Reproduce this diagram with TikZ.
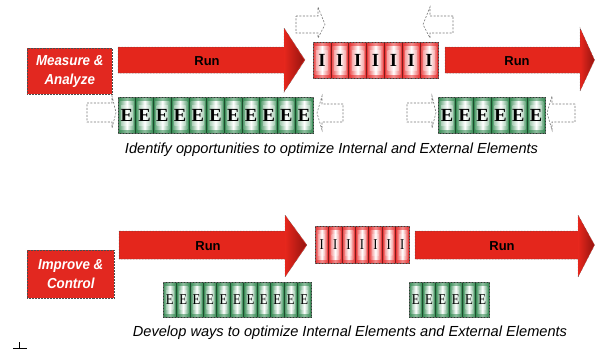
\documentclass[tikz,border=0pt]{standalone}
\usepackage{fontspec}
\setmainfont{Liberation Sans}
\newfontfamily\cellserif{Liberation Serif}
\definecolor{arrowred}{RGB}{228,38,28}
\definecolor{arrowdark}{RGB}{150,20,15}
\definecolor{boxred}{RGB}{226,40,32}
\definecolor{cellred}{RGB}{232,48,48}
\definecolor{cellgreen}{RGB}{52,138,82}
\definecolor{dashgray}{RGB}{120,120,120}
\newcommand\cellrow[9]{%
  \foreach \k in {1,...,#6}{%
    \pgfmathsetmacro\xa{#2+(\k-1)*#4}%
    \pgfmathsetmacro\xb{\xa+#4}%
    \pgfmathsetmacro\xm{\xa+#4/2}%
    \shade[left color=#7, right color=#7, middle color=#7!55!white] (\xa,#3) rectangle (\xb,#3+#5);
    \shade[left color=#7!75!white, right color=#7!75!white, middle color=white] (\xa+1.6,#3+4) rectangle (\xb-1.6,#3+#5-4);
    \shade[left color=#7!40!white, right color=#7!40!white, middle color=white] (\xa+3.2,#3+8) rectangle (\xb-3.2,#3+#5-8);
    \draw[#7!55!black, line width=0.7pt] (\xa,#3) rectangle (\xb,#3+#5);
    \node[#9] (#1-\k) at (\xm,#3+#5/2) {#8};
  }%
  \draw[black!60, densely dotted, line width=0.5pt] (#2,#3) rectangle (#2+#6*#4,#3+#5);
}
\tikzset{
  runarrow/.style={fill=arrowred, draw=black!70, densely dotted, line width=0.5pt},
  runlabel/.style={font=\bfseries\fontsize{13bp}{15bp}\selectfont, text=black},
  phasebox/.style={fill=boxred, draw=black!70, densely dotted, line width=0.5pt},
  phaselabel/.style={font=\bfseries\itshape\fontsize{14.5bp}{19bp}\selectfont, text=white, align=center, xscale=0.92},
  biglet/.style={font=\cellserif\bfseries\fontsize{18.5bp}{20bp}\selectfont, text=black, inner sep=0pt},
  smalllet/.style={font=\cellserif\fontsize{15bp}{16bp}\selectfont, text=black, inner sep=0pt, xscale=0.85},
  caption/.style={font=\itshape\fontsize{14.6bp}{16bp}\selectfont, text=black},
  dasharrow/.style={draw=dashgray, dashed, dash pattern=on 2pt off 1.5pt, line width=0.6pt},
}
\begin{document}
\begin{tikzpicture}[x=1bp,y=-1bp]
\useasboundingbox[fill=white] (0,0) rectangle (595,349);

% ---------- top section ----------
\node[phasebox, minimum width=85bp, minimum height=46bp, anchor=north west] (mabox) at (27,48) {};
\node[phaselabel] (malabel) at (mabox.center) {Measure \&\\Analyze};

\path[runarrow] (118,47) -- (284,47) -- (284,28) -- (305,60) -- (284,92) -- (284,73) -- (118,73) -- cycle;
\shade[left color=arrowred, right color=arrowdark] (284.6,29.5) -- (304,60) -- (284.6,90.5) -- cycle;
\node[runlabel] (run1) at (207,61) {Run};

\path[runarrow] (445,47) -- (580,47) -- (580,28) -- (594.6,60) -- (580,91) -- (580,73) -- (445,73) -- cycle;
\shade[left color=arrowred, right color=arrowdark] (580.6,29.5) -- (594,60) -- (580.6,89.5) -- cycle;
\node[runlabel] (run2) at (517,61) {Run};

\cellrow{ti}{313}{42}{17.857}{36}{7}{cellred}{I}{biglet}
\cellrow{tea}{118}{97}{17.727}{36}{11}{cellgreen}{E}{biglet}
\cellrow{teb}{438}{97}{17.833}{36}{6}{cellgreen}{E}{biglet}

% dashed block arrows
\draw[dasharrow] (296,16) -- (318,16) -- (318,7) -- (325,24.5) -- (318,38) -- (318,33) -- (296,33) -- cycle;
\draw[dasharrow] (453,16) -- (430,16) -- (430,7) -- (423,24.5) -- (430,38) -- (430,33) -- (453,33) -- cycle;
\draw[dasharrow] (87,103) -- (112,103) -- (112,96) -- (116,112.5) -- (112,128) -- (112,122) -- (87,122) -- cycle;
\draw[dasharrow] (343,104) -- (322,104) -- (322,96) -- (317,113) -- (322,130) -- (322,122) -- (343,122) -- cycle;
\draw[dasharrow] (407,103) -- (432,103) -- (432,96) -- (436,112.5) -- (432,128) -- (432,122) -- (407,122) -- cycle;
\draw[dasharrow] (575,104) -- (552,104) -- (552,96) -- (547,113) -- (552,130) -- (552,122) -- (575,122) -- cycle;

\node[caption] (cap1) at (331.5,150) {Identify opportunities to optimize Internal and External Elements};

% ---------- bottom section ----------
\node[phasebox, minimum width=87bp, minimum height=48bp, anchor=north west] (icbox) at (27,250) {};
\node[phaselabel] (iclabel) at (icbox.center) {Improve \&\\Control};

\path[runarrow] (119,231) -- (285,231) -- (285,215) -- (307,245) -- (285,277) -- (285,259) -- (119,259) -- cycle;
\shade[left color=arrowred, right color=arrowdark] (285.6,216.5) -- (306,245) -- (285.6,275.5) -- cycle;
\node[runlabel] (run3) at (208,246) {Run};

\path[runarrow] (415,231) -- (578,231) -- (578,215) -- (594.6,245) -- (578,277) -- (578,259) -- (415,259) -- cycle;
\shade[left color=arrowred, right color=arrowdark] (578.6,216.5) -- (594,245) -- (578.6,275.5) -- cycle;
\node[runlabel] (run4) at (502,246) {Run};

\cellrow{bi}{315}{226}{13.43}{37}{7}{cellred}{I}{smalllet}
\cellrow{bea}{163}{282}{13.45}{35}{11}{cellgreen}{E}{smalllet}
\cellrow{beb}{409}{282}{13.33}{35}{6}{cellgreen}{E}{smalllet}

\node[caption] (cap2) at (350,333) {Develop ways to optimize Internal Elements and External Elements};

% small mark bottom left
\coordinate (mk1) at (19.5,342);
\coordinate (mk2) at (19.5,348);
\coordinate (mk3) at (13,348);
\coordinate (mk4) at (27,348);
\draw[black, line width=0.8pt] (mk1) -- (mk2);
\draw[black, line width=0.8pt] (mk3) -- (mk4);
\end{tikzpicture}
\end{document}
